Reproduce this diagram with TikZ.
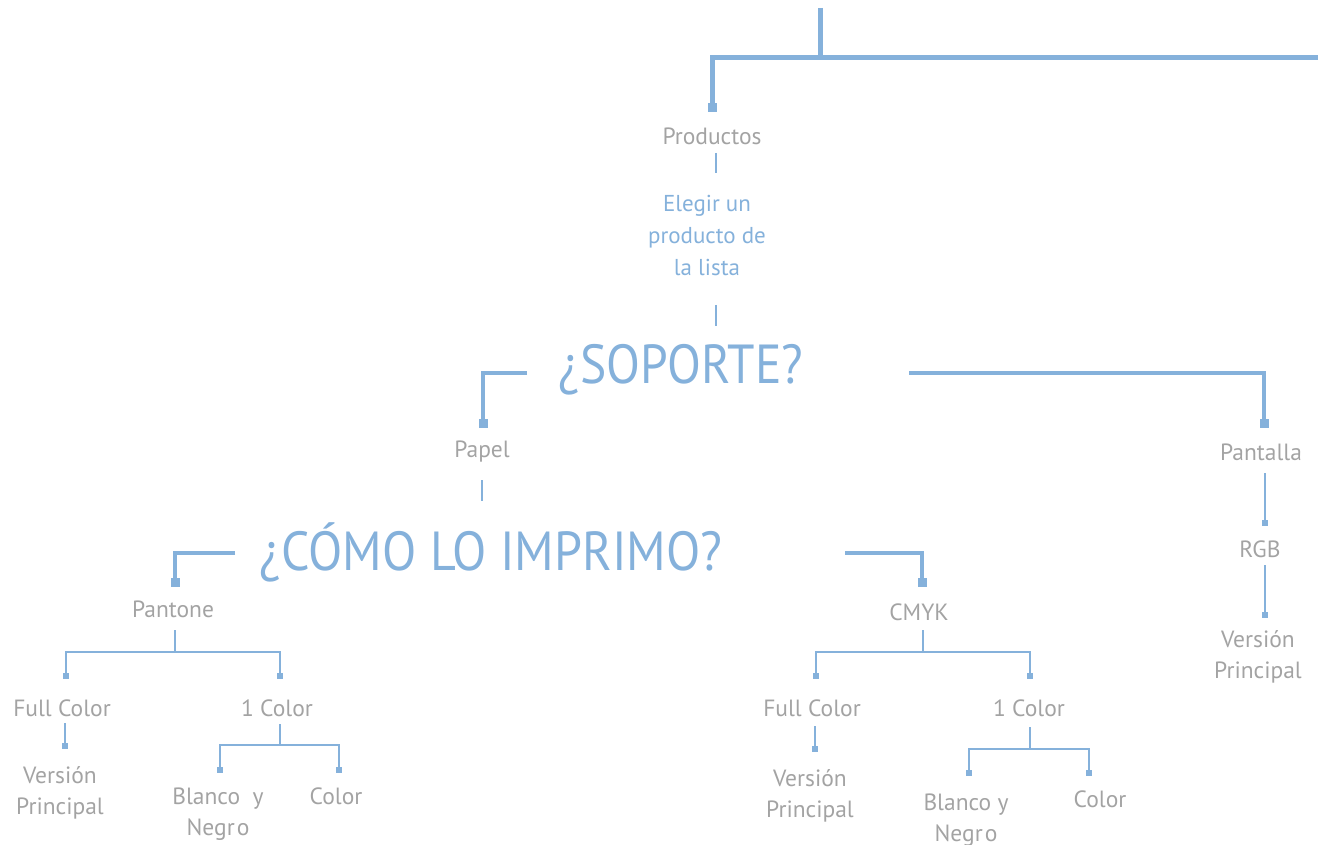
\documentclass[tikz,border=0pt]{standalone}
\usepackage{fontspec}
\setmainfont{PT Sans}
\definecolor{lb}{HTML}{85B1DB}
\definecolor{gr}{HTML}{A3A3A3}
\begin{document}
\begin{tikzpicture}[x=1pt,y=-1pt,
 lab/.style={text=gr,font=\fontsize{23.5}{31.5}\selectfont,align=center,inner sep=0},
 qlab/.style={text=lb,font=\fontsize{23}{32}\selectfont,align=center,inner sep=0},
 big/.style={text=lb,font=\fontsize{55}{60}\selectfont,inner sep=0},
 lthick/.style={draw=lb,line width=5pt},
 lmid/.style={draw=lb,line width=4pt},
 lthin/.style={draw=lb,line width=2.5pt},
 bsq/.style={fill=lb,minimum size=9pt,inner sep=0,draw=none},
 ssq/.style={fill=lb,minimum size=5.5pt,inner sep=0,draw=none}]
\useasboundingbox (0,0) rectangle (1318,845);
% top
\coordinate (top) at (820,8);
\coordinate (tj) at (820,58);
\coordinate (tl) at (712,58);
\coordinate (tr) at (1318,58);
\node[bsq] (sqP) at (712,108) {};
\draw[lthick] (top) -- (tj);
\draw[lthick] (tr) -- (tl) -- (sqP.center);
\node[lab] (prod) at (712,136) {Productos};
\coordinate (p1) at (716,153); \coordinate (p2) at (716,173);
\draw[lthin] (p1) -- (p2);
\node[qlab] (eleg) at (707,235) {Elegir un\\producto de\\la lista};
\coordinate (e1) at (716,305); \coordinate (e2) at (716,326);
\draw[lthin] (e1) -- (e2);
% soporte
\node[big] (sop) at (681,370) {\scalebox{0.9}[1]{¿SOPORTE?}};
\coordinate (sl1) at (527,373); \coordinate (sl2) at (483,373);
\node[bsq] (sqPap) at (483,423) {};
\draw[lmid] (sl1) -- (sl2) -- (sqPap.center);
\coordinate (sr1) at (909,373); \coordinate (sr2) at (1264,373);
\node[bsq] (sqPan) at (1264,423) {};
\draw[lmid] (sr1) -- (sr2) -- (sqPan.center);
\node[lab] (papel) at (482,452) {Papel};
\coordinate (pa1) at (482,480); \coordinate (pa2) at (482,501);
\draw[lthin] (pa1) -- (pa2);
% pantalla
\node[lab] (pant) at (1261,452) {Pantalla};
\node[ssq] (sqRGB) at (1265,523) {};
\coordinate (pn1) at (1265,473);
\draw[lthin] (pn1) -- (sqRGB.center);
\node[lab] (rgb) at (1260,549) {RGB};
\node[ssq] (sqVR) at (1265,615) {};
\coordinate (rg1) at (1265,565);
\draw[lthin] (rg1) -- (sqVR.center);
\node[lab] (vr) at (1258,657) {Versión\\Principal};
% como lo imprimo
\node[big] (como) at (491,552) {\scalebox{0.91}[1]{¿CÓMO LO IMPRIMO?}};
\coordinate (cl1) at (235,553); \coordinate (cl2) at (175,553);
\node[bsq] (sqPto) at (175,582) {};
\draw[lmid] (cl1) -- (cl2) -- (sqPto.center);
\coordinate (cr1) at (845,553); \coordinate (cr2) at (922,553);
\node[bsq] (sqCm) at (922,582) {};
\draw[lmid] (cr1) -- (cr2) -- (sqCm.center);
\node[lab] (pto) at (173,609) {Pantone};
\node[lab] (cmyk) at (919,612) {CMYK};
% pantone subtree
\coordinate (a0) at (175,630); \coordinate (a1) at (175,652);
\coordinate (aL) at (66,652); \coordinate (aR) at (280,652);
\node[ssq] (sqAF) at (66,676) {};
\node[ssq] (sqA1) at (280,676) {};
\draw[lthin] (a0) -- (a1);
\draw[lthin] (sqAF.center) -- (aL) -- (aR) -- (sqA1.center);
\node[lab] (aFC) at (62,708) {Full Color};
\node[lab] (a1C) at (277,708) {1 Color};
\coordinate (af0) at (65,723);
\node[ssq] (sqAV) at (65,746) {};
\draw[lthin] (af0) -- (sqAV.center);
\node[lab] (aV) at (60,793) {Versión\\Principal};
\coordinate (ab0) at (280,724); \coordinate (ab1) at (280,745);
\coordinate (abL) at (220,745); \coordinate (abR) at (339,745);
\node[ssq] (sqABN) at (220,770) {};
\node[ssq] (sqAC) at (339,770) {};
\draw[lthin] (ab0) -- (ab1);
\draw[lthin] (sqABN.center) -- (abL) -- (abR) -- (sqAC.center);
\node[lab] (aBN) at (218,814) {Blanco\ \ y\\Negr\hspace{2pt}o};
\node[lab] (aC) at (336,796) {Color};
% cmyk subtree
\coordinate (b0) at (923,630); \coordinate (b1) at (923,652);
\coordinate (bL) at (816,652); \coordinate (bR) at (1030,652);
\node[ssq] (sqBF) at (816,676) {};
\node[ssq] (sqB1) at (1030,676) {};
\draw[lthin] (b0) -- (b1);
\draw[lthin] (sqBF.center) -- (bL) -- (bR) -- (sqB1.center);
\node[lab] (bFC) at (812,708) {Full Color};
\node[lab] (b1C) at (1029,708) {1 Color};
\coordinate (bf0) at (815,726);
\node[ssq] (sqBV) at (815,749) {};
\draw[lthin] (bf0) -- (sqBV.center);
\node[lab] (bV) at (810,796) {Versión\\Principal};
\coordinate (bb0) at (1030,727); \coordinate (bb1) at (1030,749);
\coordinate (bbL) at (969,749); \coordinate (bbR) at (1089,749);
\node[ssq] (sqBBN) at (969,773) {};
\node[ssq] (sqBC) at (1089,773) {};
\draw[lthin] (bb0) -- (bb1);
\draw[lthin] (sqBBN.center) -- (bbL) -- (bbR) -- (sqBC.center);
\node[lab] (bBN) at (966,820) {Blanco y\\Negr\hspace{2pt}o};
\node[lab] (bC) at (1100,799) {Color};
\end{tikzpicture}
\end{document}
